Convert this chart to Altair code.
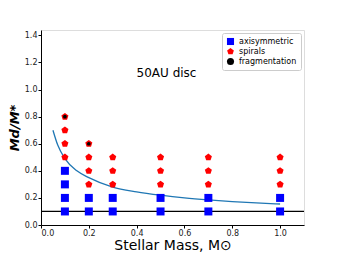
import altair as alt
import pandas as pd

axi_x = [0.1, 0.1, 0.1, 0.1, 0.2, 0.2, 0.3, 0.3, 0.5, 0.5, 0.7, 0.7, 1.0, 1.0]
axi_y = [0.1, 0.2, 0.3, 0.4, 0.1, 0.2, 0.1, 0.2, 0.1, 0.2, 0.1, 0.2, 0.1, 0.2]
spi_x = [0.1, 0.1, 0.1, 0.1, 0.2, 0.2, 0.2, 0.2, 0.3, 0.3, 0.3, 0.5, 0.5, 0.5, 0.7, 0.7, 0.7, 1.0, 1.0, 1.0]
spi_y = [0.5, 0.6, 0.7, 0.8, 0.3, 0.4, 0.5, 0.6, 0.3, 0.4, 0.5, 0.3, 0.4, 0.5, 0.3, 0.4, 0.5, 0.3, 0.4, 0.5]
frag_x = [0.1, 0.2]
frag_y = [0.8, 0.6]
curve_x = [0.05, 0.07, 0.1, 0.15, 0.2, 0.3, 0.4, 0.5, 0.6, 0.7, 0.8, 0.9, 1.0]
curve_y = [0.70, 0.59, 0.49, 0.40, 0.35, 0.28, 0.245, 0.22, 0.20, 0.185, 0.173, 0.163, 0.155]
hline_y = [0.1]
categories = ["axisymmetric", "spirals", "fragmentation"]
colors = ["#0000ff", "#ff0000", "#000000"]

pent = "M0,-1L0.951,-0.309L0.588,0.809L-0.588,0.809L-0.951,-0.309Z"

pts = pd.concat([
    pd.DataFrame({"x": axi_x, "y": axi_y, "kind": categories[0]}),
    pd.DataFrame({"x": spi_x, "y": spi_y, "kind": categories[1]}),
    pd.DataFrame({"x": frag_x, "y": frag_y, "kind": categories[2]}),
])

xs = alt.Scale(domain=[0, 1.1], nice=False)
ys = alt.Scale(domain=[0, 1.44], nice=False)
xax = alt.Axis(values=[0, 0.2, 0.4, 0.6, 0.8, 1.0], format=".1f", title="Stellar Mass, M⊙",
               grid=False, tickColor="black", domainColor="black", labelFontSize=8,
               titleFontSize=14, titleFontWeight="normal", labelColor="#222", titleColor="black",
               titlePadding=1, tickSize=3, labelPadding=1, labelOverlap=False)
yax = alt.Axis(values=[0, 0.2, 0.4, 0.6, 0.8, 1.0, 1.2, 1.4], format=".1f", title="Md/M*",
               grid=False, tickColor="black", domainColor="black", labelFontSize=8,
               titleFontSize=13, titleFontWeight="bold", titleFontStyle="italic",
               labelColor="#222", titleColor="black", titlePadding=3, tickSize=3, labelPadding=1,
               labelOverlap=False)

X = alt.X("x:Q", scale=xs, axis=xax)
Y = alt.Y("y:Q", scale=ys, axis=yax)

curve = alt.Chart(pd.DataFrame({"x": curve_x, "y": curve_y})).mark_line(
    color="#1f77b4", strokeWidth=1.3, interpolate="monotone"
).encode(x=X, y=Y)

hline = alt.Chart(pd.DataFrame({"y": hline_y})).mark_rule(color="black", strokeWidth=1.2).encode(y=Y)

def layer(kind, shape, size):
    return alt.Chart(pts[pts.kind == kind]).mark_point(
        shape=shape, filled=True, size=size, opacity=1
    ).encode(
        x=X,
        y=Y,
        color=alt.Color("kind:N", scale=alt.Scale(domain=categories, range=colors),
                        legend=alt.Legend(title=None, orient="top-right", offset=3,
                                          strokeColor="#ccc", fillColor="white", padding=4,
                                          labelFontSize=8, symbolSize=50, rowPadding=1,
                                          cornerRadius=2, values=categories)),
        shape=alt.Shape("kind:N", scale=alt.Scale(domain=categories, range=["square", pent, "circle"]),
                        legend=None),
    )

sq = layer("axisymmetric", "square", 64)
sp = layer("spirals", pent, 55)
fr = layer("fragmentation", "circle", 14)

text = alt.Chart(pd.DataFrame({"x": [0.525], "y": [1.126], "t": ["50AU disc"]})).mark_text(
    fontSize=12, color="black"
).encode(x=X, y=Y, text="t:N")

chart = alt.layer(curve, hline, sq, sp, fr, text).properties(
    width=263, height=195,
    autosize=alt.AutoSizeParams(type="none"),
    padding={"left": 33, "top": 22, "right": 26, "bottom": 28},
).resolve_scale(color="shared", shape="shared").configure_view(
    stroke="black", strokeWidth=1
).configure(font="DejaVu Sans")

chart.save("out.html", embed_options={"renderer": "svg", "actions": False})
